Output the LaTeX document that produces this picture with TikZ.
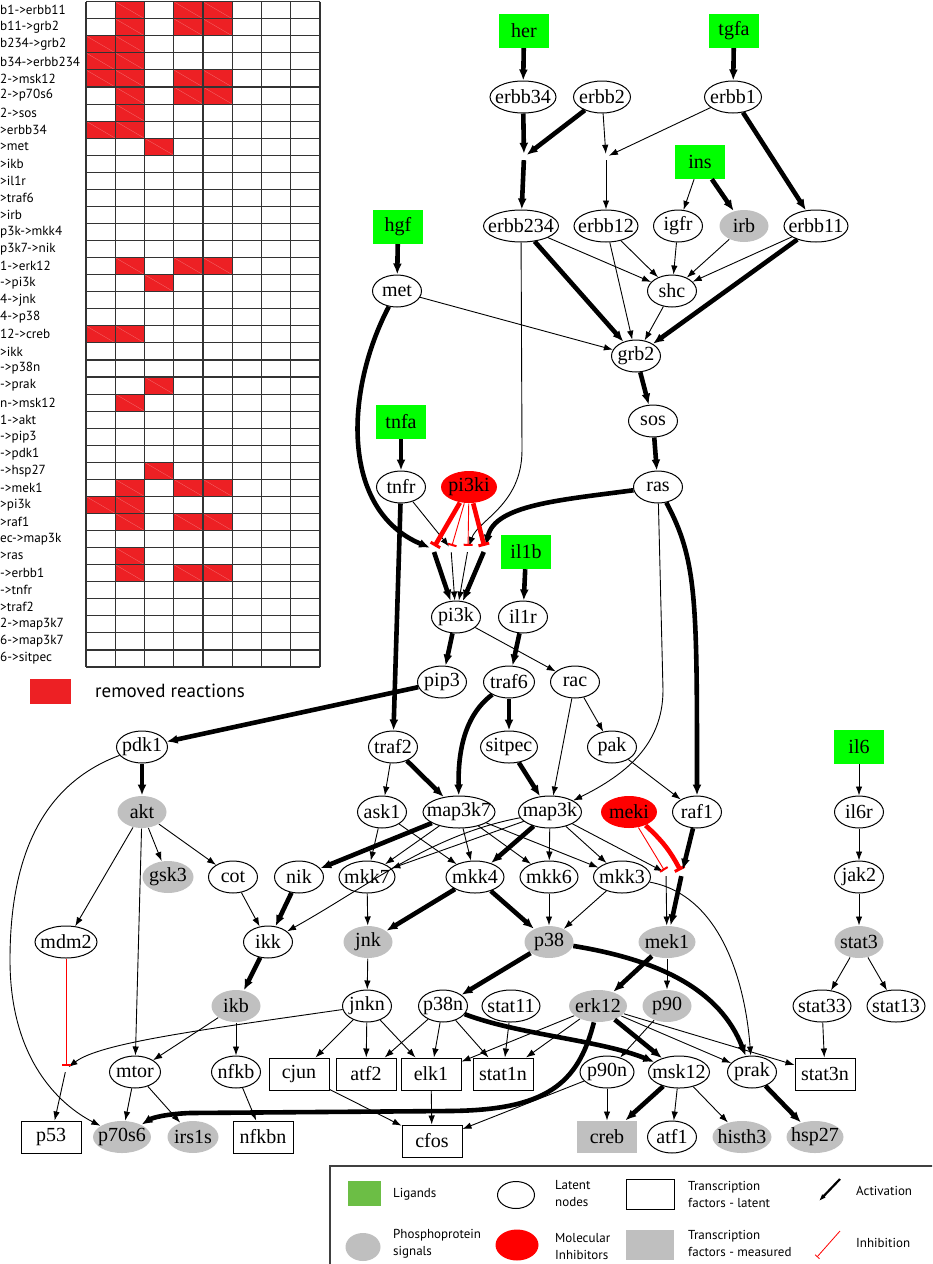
\documentclass[tikz,border=0pt]{standalone}
\usepackage{fontspec}
\setmainfont{Liberation Serif}
\usetikzlibrary{arrows.meta,shapes.geometric}
\newfontfamily\keyfont{PT Sans}
\definecolor{lgreen}{RGB}{0,255,0}
\definecolor{phospho}{RGB}{192,192,192}
\definecolor{cellred}{RGB}{237,32,36}
\definecolor{keygreen}{RGB}{108,190,69}
\tikzstyle{ligand}=[rectangle,fill=lgreen,minimum width=50pt,minimum height=34pt,inner sep=0pt,font=\rmfamily\fontsize{20}{22}\selectfont]
\tikzstyle{latent}=[ellipse,draw,line width=1pt,minimum width=49pt,minimum height=32pt,inner xsep=-8pt,inner ysep=0pt,font=\rmfamily\fontsize{20}{22}\selectfont]
\tikzstyle{signal}=[latent,draw=none,fill=phospho]
\tikzstyle{inhibitor}=[latent,draw=none,fill=red,minimum width=56pt]
\tikzstyle{tf}=[rectangle,draw,line width=1pt,minimum width=60pt,minimum height=32pt,inner sep=0pt,font=\rmfamily\fontsize{20}{22}\selectfont]
\tikzstyle{tfsignal}=[tf,draw=none,fill=phospho]
\tikzstyle{gate}=[circle,minimum size=6pt,inner sep=0pt]
\tikzstyle{act}=[-{Latex[length=9pt,width=6.5pt]},line width=0.9pt]
\tikzstyle{stim}=[-{Latex[length=11pt,width=9pt]},line width=4.6pt]
\tikzstyle{block}=[-{Bar[width=9pt,line width=2pt]},red,line width=0.9pt]
\tikzstyle{strongblock}=[-{Bar[width=11pt,line width=3pt]},red,line width=4.6pt]
\tikzstyle{cellline}=[black!80,line width=1.1pt]
\tikzstyle{rowlabel}=[anchor=west,inner sep=0pt,font=\keyfont\fontsize{13.2}{15}\selectfont]
\tikzstyle{keytext}=[anchor=west,inner sep=0pt,align=left,font=\keyfont\fontsize{13}{17}\selectfont]

\begin{document}
\begin{tikzpicture}[x=1pt,y=-1pt]
\useasboundingbox (0,0) rectangle (932,1264);
\clip (0,0) rectangle (932,1264);
\fill[white] (0,0) rectangle (932,1264);

% table of removed reactions
\foreach \cc/\rr in {2/1,4/1,5/1,2/2,4/2,5/2,1/3,2/3,1/4,2/4,1/5,2/5,4/5,5/5,2/6,4/6,5/6,2/7,1/8,2/8,3/9,2/16,4/16,5/16,3/17,1/20,2/20,3/23,2/24,3/28,2/29,4/29,5/29,1/30,2/30,2/31,4/31,5/31,2/33,2/34,4/34,5/34}
{
  \fill[cellred] ({86+(\cc-1)*29.25},{1.7+(\rr-1)*17.06}) rectangle ++(29.25,17.06);
  \draw[white,opacity=.35,line width=.3pt] ({86+(\cc-1)*29.25},{1.7+(\rr-1)*17.06}) -- ++(29.25,17.06);
}
\foreach \i in {0,...,8}
  \draw[cellline] ({86+\i*29.25},1.7) -- ({86+\i*29.25},667);
\foreach \j in {0,...,39}
  \draw[cellline] (86,{1.7+\j*17.06}) -- (320,{1.7+\j*17.06});
\foreach \rr/\lab in {1/b1->erbb11,2/b11->grb2,3/b234->grb2,4/b34->erbb234,5/2->msk12,6/2->p70s6,7/2->sos,8/>erbb34,9/>met,10/>ikb,11/>il1r,12/>traf6,13/>irb,14/p3k->mkk4,15/p3k7->nik,16/1->erk12,17/->pi3k,18/4->jnk,19/4->p38,20/12->creb,21/>ikk,22/->p38n,23/->prak,24/n->msk12,25/1->akt,26/->pip3,27/->pdk1,28/->hsp27,29/->mek1,30/>pi3k,31/>raf1,32/ec->map3k,33/>ras,34/->erbb1,35/->tnfr,36/>traf2,37/2->map3k7,38/6->map3k7,39/6->sitpec}
  \node[rowlabel] at (0,{1.7+(\rr-.5)*17.06}) (row\rr) {\lab};
\fill[cellred] (30,679) rectangle (71,704);
\node[rowlabel,font=\keyfont\fontsize{19}{21}\selectfont] at (95,691) (removed) {removed reactions};

% network
\node[ligand] at (524,31) (her) {her};
\node[ligand] at (734,31) (tgfa) {tgfa};
\node[latent,minimum width=66pt] at (523,97) (erbb34) {erbb34};
\node[latent,minimum width=57pt] at (602,97) (erbb2) {erbb2};
\node[latent,minimum width=57pt] at (733,97) (erbb1) {erbb1};
\node[ligand] at (700,162) (ins) {ins};
\node[ligand] at (398,227) (hgf) {hgf};
\node[latent,minimum width=75pt] at (521,226) (erbb234) {erbb234};
\node[latent,minimum width=64pt] at (606,226) (erbb12) {erbb12};
\node[latent] at (678,226) (igfr) {igfr};
\node[signal] at (744,226) (irb) {irb};
\node[latent,minimum width=64pt] at (816,226) (erbb11) {erbb11};
\node[latent] at (397,291) (met) {met};
\node[latent] at (672,291) (shc) {shc};
\node[latent] at (636,356) (grb2) {grb2};
\node[ligand] at (401,422) (tnfa) {tnfa};
\node[latent] at (653,421) (sos) {sos};
\node[latent] at (401,487) (tnfr) {tnfr};
\node[inhibitor] at (469,487) (pi3ki) {pi3ki};
\node[latent] at (658,487) (ras) {ras};
\node[ligand] at (526,552) (il1b) {il1b};
\node[latent] at (456,617) (pi3k) {pi3k};
\node[latent] at (523,617) (il1r) {il1r};
\node[latent] at (442,682) (pip3) {pip3};
\node[latent,minimum width=51pt] at (509,682) (traf6) {traf6};
\node[latent] at (575,682) (rac) {rac};
\node[latent,minimum width=51pt] at (142,747) (pdk1) {pdk1};
\node[latent] at (393,747) (traf2) {traf2};
\node[latent,minimum width=57pt] at (509,747) (sitpec) {sitpec};
\node[latent] at (612,747) (pak) {pak};
\node[ligand] at (859,747) (il6) {il6};
\node[signal] at (142,812) (akt) {akt};
\node[latent] at (382,812) (ask1) {ask1};
\node[latent,minimum width=72pt] at (459,812) (map3k7) {map3k7};
\node[latent,minimum width=63pt] at (550,812) (map3k) {map3k};
\node[inhibitor] at (629,812) (meki) {meki};
\node[latent] at (697,812) (raf1) {raf1};
\node[latent] at (859,812) (il6r) {il6r};
\node[signal,minimum width=51pt] at (168,877) (gsk3) {gsk3};
\node[latent] at (233,877) (cot) {cot};
\node[latent] at (299,877) (nik) {nik};
\node[latent,minimum width=56pt] at (367,877) (mkk7) {mkk7};
\node[latent,minimum width=58pt] at (475,877) (mkk4) {mkk4};
\node[latent,minimum width=58pt] at (549,877) (mkk6) {mkk6};
\node[latent,minimum width=57pt] at (622,877) (mkk3) {mkk3};
\node[latent] at (859,877) (jak2) {jak2};
\node[latent,minimum width=62pt] at (66,942) (mdm2) {mdm2};
\node[latent] at (268,942) (ikk) {ikk};
\node[signal] at (368,942) (jnk) {jnk};
\node[signal] at (549,942) (p38) {p38};
\node[signal,minimum width=57pt] at (667,942) (mek1) {mek1};
\node[signal] at (859,942) (stat3) {stat3};
\node[signal] at (236,1006) (ikb) {ikb};
\node[latent] at (367,1006) (jnkn) {jnkn};
\node[latent] at (443,1006) (p38n) {p38n};
\node[latent,minimum width=58pt] at (511,1006) (stat11) {stat11};
\node[signal,minimum width=58pt] at (598,1006) (erk12) {erk12};
\node[signal] at (667,1006) (p90) {p90};
\node[latent,minimum width=58pt] at (822,1006) (stat33) {stat33};
\node[latent,minimum width=58pt] at (896,1006) (stat13) {stat13};
\node[latent,minimum width=51pt] at (135,1072) (mtor) {mtor};
\node[latent] at (236,1072) (nfkb) {nfkb};
\node[tf] at (299,1074) (cjun) {cjun};
\node[tf] at (366,1074) (atf2) {atf2};
\node[tf] at (431,1074) (elk1) {elk1};
\node[tf] at (503,1074) (stat1n) {stat1n};
\node[latent,minimum width=54pt] at (607,1072) (p90n) {p90n};
\node[latent,minimum width=61pt] at (679,1072) (msk12) {msk12};
\node[latent] at (752,1072) (prak) {prak};
\node[tf] at (825,1074) (stat3n) {stat3n};
\node[tf] at (51,1137) (p53) {p53};
\node[signal,minimum width=58pt] at (122,1137) (p70s6) {p70s6};
\node[signal,minimum width=51pt] at (193,1137) (irs1s) {irs1s};
\node[tf] at (263,1137) (nfkbn) {nfkbn};
\node[tf] at (432,1141) (cfos) {cfos};
\node[tfsignal] at (607,1137) (creb) {creb};
\node[latent] at (672,1137) (atf1) {atf1};
\node[signal,minimum width=59pt] at (742,1137) (histh3) {histh3};
\node[signal,minimum width=57pt] at (815,1137) (hsp27) {hsp27};

% and-gates
\node[gate] at (524,157) (ga) {};
\node[gate] at (606,157) (gb) {};
\node[gate] at (433,549) (g1) {};
\node[gate] at (451,549) (g2) {};
\node[gate] at (468,549) (g3) {};
\node[gate] at (485,549) (g4) {};
\node[gate] at (666,873) (gm1) {};
\node[gate] at (682,873) (gm2) {};
\node[gate] at (66,1069) (gj) {};

% receptors
\draw[stim] (her) edge (erbb34);
\draw[stim] (tgfa) edge (erbb1);
\draw[stim] (erbb34) edge (ga);
\draw[stim] (erbb2) edge (ga);
\draw[stim] (ga) edge (erbb234);
\draw[act] (erbb2) edge (gb);
\draw[act] (erbb1) edge (gb);
\draw[act] (gb) edge (erbb12);
\draw[stim] (erbb1) edge (erbb11);
\draw[act] (ins) edge (igfr);
\draw[stim] (ins) edge (irb);
\draw[stim] (hgf) edge (met);
\draw[act] (erbb234) edge (shc);
\draw[act] (erbb12) edge (shc);
\draw[act] (igfr) edge (shc);
\draw[act] (irb) edge (shc);
\draw[act] (erbb11) edge (shc);
\draw[stim] (erbb234) edge (grb2);
\draw[act] (erbb12) edge (grb2);
\draw[act] (shc) edge (grb2);
\draw[stim] (erbb11) edge (grb2);
\draw[act] (met) edge (grb2);
\draw[stim] (grb2) edge (sos);
\draw[stim] (sos) edge (ras);

% pi3k and its inhibitor
\draw[stim] (met) .. controls (345,390) and (340,510) .. (g1);
\draw[act] (tnfr) edge (g2);
\draw[act] (erbb234) -- (522,450) .. controls (522,505) and (478,520) .. (g3);
\draw[stim] (ras) .. controls (560,500) and (495,505) .. (g4);
\draw[strongblock] (pi3ki) edge (g1);
\draw[block] (pi3ki) edge (g2);
\draw[block] (pi3ki) edge (g3);
\draw[strongblock] (pi3ki) edge (g4);
\draw[stim] (g1) edge (pi3k);
\draw[act] (g2) edge (pi3k);
\draw[act] (g3) edge (pi3k);
\draw[stim] (g4) edge (pi3k);
\draw[stim] (tnfa) edge (tnfr);
\draw[stim] (tnfr) edge (traf2);
\draw[stim] (il1b) edge (il1r);
\draw[stim] (il1r) edge (traf6);
\draw[stim] (pi3k) edge (pip3);
\draw[act] (pi3k) edge (rac);
\draw[stim] (pip3) edge (pdk1);

% kinase cascades
\draw[stim] (ras) .. controls (697,560) and (697,600) .. (raf1);
\draw[act] (ras) -- (663,690) .. controls (663,745) and (625,775) .. (map3k);
\draw[act] (rac) edge (map3k);
\draw[act] (rac) edge (pak);
\draw[stim] (traf6) .. controls (465,715) and (458,750) .. (map3k7);
\draw[stim] (traf6) edge (sitpec);
\draw[act] (traf2) edge (ask1);
\draw[stim] (traf2) edge (map3k7);
\draw[stim] (sitpec) edge (map3k);
\draw[act] (pak) edge (raf1);
\draw[stim] (pdk1) edge (akt);
\draw[act] (pdk1) .. controls (40,785) and (10,860) .. (10,960) .. controls (10,1060) and (60,1105) .. (p70s6);
\draw[act] (akt) edge (gsk3);
\draw[act] (akt) edge (cot);
\draw[act] (akt) edge (mdm2);
\draw[act] (akt) edge (mtor);
\draw[act] (ask1) edge (mkk7);
\draw[act] (ask1) edge (mkk4);
\draw[stim] (map3k7) edge (nik);
\draw[act] (map3k7) edge (mkk7);
\draw[act] (map3k7) edge (mkk4);
\draw[act] (map3k7) edge (mkk6);
\draw[act] (map3k7) edge (mkk3);
\draw[act] (map3k) edge (mkk7);
\draw[stim] (map3k) edge (mkk4);
\draw[act] (map3k) edge (mkk6);
\draw[act] (map3k) edge (mkk3);
\draw[act] (map3k) .. controls (430,835) and (370,885) .. (ikk);
\draw[act] (map3k) edge (gm1);
\draw[block] (meki) edge (gm1);
\draw[strongblock] (meki) to[bend left=10] (gm2);
\draw[stim] (raf1) edge (gm2);
\draw[act] (gm1) edge (mek1);
\draw[stim] (gm2) edge (mek1);
\draw[act] (cot) edge (ikk);
\draw[stim] (nik) edge (ikk);
\draw[act] (mkk7) edge (jnk);
\draw[stim] (mkk4) edge (jnk);
\draw[stim] (mkk4) edge (p38);
\draw[act] (mkk6) edge (p38);
\draw[act] (mkk3) edge (p38);
\draw[act] (mkk3) .. controls (720,895) and (745,980) .. (prak);
\draw[stim] (ikk) edge (ikb);
\draw[act] (jnk) edge (jnkn);
\draw[stim] (p38) edge (p38n);
\draw[stim] (p38) .. controls (660,960) and (720,990) .. (prak);
\draw[stim] (mek1) edge (erk12);
\draw[act] (mek1) edge (p90);
\draw[act] (il6) edge (il6r);
\draw[act] (il6r) edge (jak2);
\draw[act] (jak2) edge (stat3);
\draw[act] (stat3) edge (stat33);
\draw[act] (stat3) edge (stat13);
\draw[act] (stat33) edge (stat3n);

% transcription factors
\draw[act] (ikb) edge (mtor);
\draw[act] (ikb) edge (nfkb);
\draw[act] (jnkn) .. controls (200,1030) and (100,1043) .. (gj);
\draw[block] (mdm2) edge (gj);
\draw[act] (gj) edge (p53);
\draw[act] (jnkn) edge (cjun);
\draw[act] (jnkn) edge (atf2);
\draw[act] (jnkn) edge (elk1);
\draw[act] (p38n) edge (atf2);
\draw[act] (p38n) edge (elk1);
\draw[act] (p38n) edge (stat1n);
\draw[stim] (p38n) .. controls (520,1035) and (600,1040) .. (msk12);
\draw[act] (stat11) edge (stat1n);
\draw[act] (erk12) edge (elk1);
\draw[act] (erk12) edge (stat1n);
\draw[stim] (erk12) edge (msk12);
\draw[act] (erk12) edge (prak);
\draw[act] (erk12) edge (stat3n);
\draw[stim] (erk12) .. controls (578,1085) and (545,1110) .. (450,1111) -- (190,1113) .. controls (165,1114) and (152,1118) .. (p70s6);
\draw[act] (p90) edge (p90n);
\draw[act] (p90n) edge (creb);
\draw[act] (p90n) edge (cfos);
\draw[stim] (msk12) edge (creb);
\draw[act] (msk12) edge (atf1);
\draw[act] (msk12) edge (histh3);
\draw[stim] (prak) edge (hsp27);
\draw[act] (mtor) edge (p70s6);
\draw[act] (mtor) edge (irs1s);
\draw[act] (nfkb) edge (nfkbn);
\draw[act] (cjun) edge (cfos);
\draw[act] (elk1) edge (cfos);

% legend
\draw[black!75,line width=1.2pt] (330,1166) rectangle (940,1270);
\fill[keygreen] (348,1181) rectangle (381,1206);
\node[keytext] at (393,1194) (kligand) {Ligands};
\node[ellipse,draw,line width=1pt,minimum width=37pt,minimum height=27pt] at (516,1195) (klatent) {};
\node[keytext] at (555,1194) (klatentt) {Latent\\nodes};
\draw[line width=1pt] (626,1179) rectangle (674,1209);
\node[keytext] at (688,1194) (ktf) {Transcription\\factors - latent};
\coordinate (kact1) at (840,1179);
\coordinate (kact2) at (819,1201);
\draw[-{Latex[length=7pt,width=5pt]},line width=2.2pt] (kact1) -- (kact2);
\node[keytext] at (856,1191) (kactt) {Activation};
\node[ellipse,fill=black!25,minimum width=35pt,minimum height=28pt] at (363,1247) (ksignal) {};
\node[keytext] at (393,1244) (ksignalt) {Phosphoprotein\\signals};
\node[ellipse,fill=red,minimum width=43pt,minimum height=31pt] at (517,1245) (kinh) {};
\node[keytext] at (555,1247) (kinht) {Molecular\\Inhibitors};
\fill[black!25] (626,1230) rectangle (674,1260);
\node[keytext] at (688,1243) (ktfm) {Transcription\\factors - measured};
\coordinate (kblk1) at (840,1231);
\coordinate (kblk2) at (817,1257);
\draw[-{Bar[width=6pt]},red,line width=0.8pt] (kblk1) -- (kblk2);
\node[keytext] at (856,1243) (kblkt) {Inhibition};
\end{tikzpicture}
\end{document}
